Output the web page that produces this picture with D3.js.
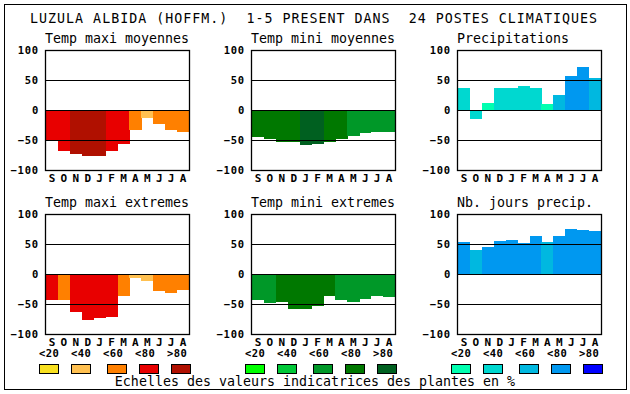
<!DOCTYPE html>
<html>
<head>
<meta charset="utf-8">
<script src="https://cdn.jsdelivr.net/npm/d3@7"></script>
<style>
  body { margin: 0; background: #fff; }
  svg { display: block; }
  text { font-family: "DejaVu Sans Mono", "Liberation Mono", monospace; fill: #000; }
</style>
</head>
<body>
<svg id="chart"></svg>
<script>
// months shown under each panel
const months = ["S", "O", "N", "D", "J", "F", "M", "A", "M", "J", "J", "A"];

// values (scale -100..100) and class index (0:<20 .. 4:>80) per month
const tmaxMoy = [-50, -68, -74, -76, -76, -68, -56, -33, -13, -23, -33, -36];
const tmaxMoyCls = [3, 3, 4, 4, 4, 3, 3, 2, 1, 2, 2, 2];
const tminMoy = [-45, -48, -53, -54, -58, -56, -53, -48, -43, -38, -36, -36];
const tminMoyCls = [3, 3, 3, 3, 4, 4, 3, 3, 2, 2, 2, 2];
const precip = [37, -15, 12, 37, 37, 40, 37, 10, 25, 57, 72, 53];
const precipCls = [1, 1, 0, 1, 1, 1, 1, 0, 2, 3, 3, 2];
const tmaxExt = [-44, -44, -64, -76, -74, -71, -36, -6, -11, -28, -31, -26];
const tmaxExtCls = [3, 2, 3, 3, 3, 3, 2, 1, 1, 2, 2, 2];
const tminExt = [-44, -49, -47, -58, -58, -54, -36, -44, -47, -41, -36, -38];
const tminExtCls = [2, 2, 3, 3, 3, 3, 3, 2, 2, 2, 2, 2];
const nbJours = [53, 40, 45, 55, 57, 52, 63, 53, 63, 75, 73, 72];
const nbJoursCls = [3, 2, 3, 3, 3, 3, 3, 2, 3, 3, 3, 3];

const legendLabels = ["<20", "<40", "<60", "<80", ">80"];
const yTicks = [100, 50, 0, -50, -100];
const gridValues = [50, 0, -50];

const title = "LUZULA ALBIDA (HOFFM.)  1-5 PRESENT DANS  24 POSTES CLIMATIQUES";
const caption = "Echelles des valeurs indicatrices des plantes en %";

// colour scales for the three columns
const palMax = ["#f8e020", "#ffc050", "#ff8000", "#e80000", "#b01000"];
const palMin = ["#00ff00", "#00c838", "#009828", "#007800", "#006020"];
const palPr = ["#00ffb0", "#00d8d0", "#00b8e0", "#0098f0", "#0000ff"];

const width = 630, height = 394;
const svg = d3.select("#chart").attr("width", width).attr("height", height);

svg.append("rect").attr("width", width).attr("height", height).attr("fill", "#fff");
svg.append("rect")
    .attr("x", 4.5).attr("y", 4.5).attr("width", 622).attr("height", 385)
    .attr("fill", "none").attr("stroke", "#000");

svg.append("text")
    .attr("x", 30).attr("y", 23)
    .attr("textLength", 567).attr("lengthAdjust", "spacing")
    .style("font-size", "13.3px")
    .style("white-space", "pre")
    .attr("xml:space", "preserve")
    .text(title);

const panels = [
    { name: "Temp maxi moyennes", vals: tmaxMoy, cls: tmaxMoyCls, pal: palMax, col: 0, row: 0 },
    { name: "Temp mini moyennes", vals: tminMoy, cls: tminMoyCls, pal: palMin, col: 1, row: 0 },
    { name: "Precipitations", vals: precip, cls: precipCls, pal: palPr, col: 2, row: 0 },
    { name: "Temp maxi extremes", vals: tmaxExt, cls: tmaxExtCls, pal: palMax, col: 0, row: 1 },
    { name: "Temp mini extremes", vals: tminExt, cls: tminExtCls, pal: palMin, col: 1, row: 1 },
    { name: "Nb. jours precip.", vals: nbJours, cls: nbJoursCls, pal: palPr, col: 2, row: 1 }
];

const pw = 143, ph = 120;
const colX = [46, 252, 458];
const rowY = [50, 214];

const x = d3.scaleBand().domain(d3.range(months.length)).range([0, pw]);
const y = d3.scaleLinear().domain([-100, 100]).range([ph, 0]);

panels.forEach(p => {
    const g = svg.append("g")
        .attr("transform", `translate(${colX[p.col]},${rowY[p.row]})`);

    g.append("text")
        .attr("x", -1).attr("y", -7)
        .style("font-size", "13.3px")
        .text(p.name);

    // bars
    g.selectAll(".bar")
        .data(p.vals)
        .enter()
        .append("rect")
        .attr("class", "bar")
        .attr("x", (d, i) => x(i))
        .attr("width", x.bandwidth() + 0.3)
        .attr("y", d => y(Math.max(0, d)))
        .attr("height", d => Math.abs(y(d) - y(0)))
        .attr("fill", (d, i) => p.pal[p.cls[i]])
        .attr("shape-rendering", "crispEdges");

    // horizontal reference lines
    g.selectAll(".grid")
        .data(gridValues)
        .enter()
        .append("line")
        .attr("x1", 0).attr("x2", pw)
        .attr("y1", d => Math.round(y(d)) + 0.5)
        .attr("y2", d => Math.round(y(d)) + 0.5)
        .attr("stroke", "#000")
        .attr("stroke-width", 1.2);

    g.append("rect")
        .attr("x", -0.5).attr("y", 0.5)
        .attr("width", pw + 1).attr("height", ph)
        .attr("fill", "none")
        .attr("stroke", "#000")
        .attr("stroke-width", 1.3);

    // y axis
    const ya = g.append("g").call(d3.axisLeft(y).tickValues(yTicks).tickSize(0).tickPadding(7));
    ya.select(".domain").remove();
    ya.selectAll("text")
        .style("font-family", "'DejaVu Sans Mono', monospace")
        .style("font-size", "10.5px")
        .style("font-weight", "bold")
        .style("letter-spacing", "0.8px")
        .attr("dy", "0.36em");

    // month axis
    const xa = g.append("g")
        .attr("transform", `translate(0,${ph})`)
        .call(d3.axisBottom(x).tickSize(0).tickFormat(i => months[i]));
    xa.select(".domain").remove();
    xa.selectAll("text")
        .style("font-family", "'DejaVu Sans Mono', monospace")
        .style("font-size", "11px")
        .style("font-weight", "bold")
        .attr("y", 11.5).attr("dy", 0);
});

// legends under each column
[palMax, palMin, palPr].forEach((pal, c) => {
    const lg = svg.append("g").attr("transform", `translate(${colX[c] - 7},0)`);
    lg.selectAll(".lab")
        .data(legendLabels)
        .enter()
        .append("text")
        .attr("x", (d, i) => i * 32)
        .attr("y", 357)
        .style("font-size", "10.5px")
        .style("font-weight", "bold")
        .style("letter-spacing", "0.4px")
        .text(d => d);
    lg.selectAll(".box")
        .data(pal)
        .enter()
        .append("rect")
        .attr("x", (d, i) => i * 32 + (i >= 2 ? 4 : 0) + 0.5)
        .attr("y", 364.5)
        .attr("width", 19).attr("height", 9)
        .attr("fill", d => d)
        .attr("stroke", "#000");
});

svg.append("text")
    .attr("x", width / 2).attr("y", 386)
    .attr("text-anchor", "middle")
    .style("font-size", "13.3px")
    .text(caption);
</script>
</body>
</html>
